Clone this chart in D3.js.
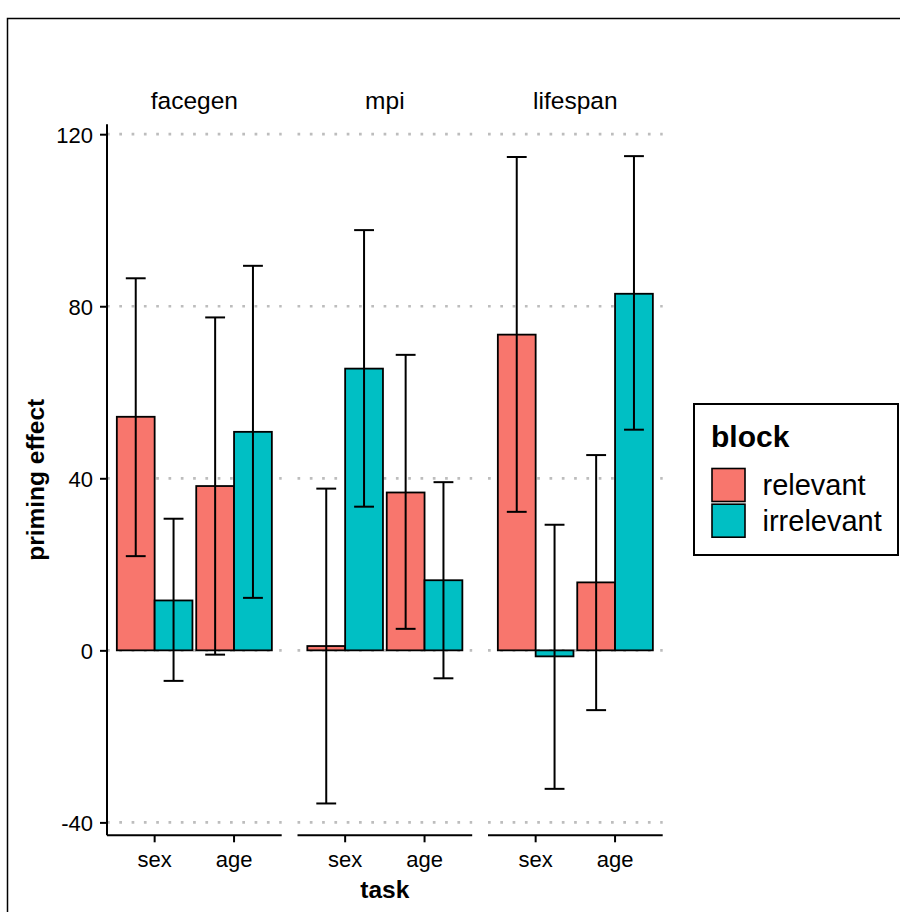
<!DOCTYPE html>
<html>
<head>
<meta charset="utf-8">
<script src="https://cdn.jsdelivr.net/npm/d3@7"></script>
<style>
  html, body { margin: 0; padding: 0; background: #fff; }
  svg { display: block; font-family: "Liberation Sans", Arial, Helvetica, sans-serif; }
</style>
</head>
<body>
<svg id="chart" width="900" height="912"></svg>
<script>
// Facets, categories and series
const panels = ["facegen", "mpi", "lifespan"];
const tasks = ["sex", "age"];
const blocks = ["relevant", "irrelevant"];
const blockColors = ["#F8766D", "#00BFC4"];

// Values ordered facegen-sex, facegen-age, mpi-sex, mpi-age, lifespan-sex, lifespan-age
const relevantMean  = [54.3, 38.2, 1.0, 36.7, 73.4, 15.8];
const relevantLower = [21.9, -1.0, -35.6, 5.0, 32.2, -13.9];
const relevantUpper = [86.5, 77.4, 37.6, 68.7, 114.7, 45.4];
const irrelevantMean  = [11.6, 50.8, 65.5, 16.3, -1.4, 82.9];
const irrelevantLower = [-7.1, 12.2, 33.4, -6.5, -32.2, 51.3];
const irrelevantUpper = [30.6, 89.4, 97.7, 39.1, 29.2, 114.9];

const yTicks = [-40, 0, 40, 80, 120];

// Build rows for drawing
const series = {
  relevant: { mean: relevantMean, lo: relevantLower, hi: relevantUpper },
  irrelevant: { mean: irrelevantMean, lo: irrelevantLower, hi: irrelevantUpper }
};
const rows = [];
panels.forEach((p, pi) => {
  tasks.forEach((t, ti) => {
    const k = pi * tasks.length + ti;
    blocks.forEach(b => {
      rows.push({ panel: p, task: t, block: b,
        mean: series[b].mean[k], lo: series[b].lo[k], hi: series[b].hi[k] });
    });
  });
});

const svg = d3.select("#chart");

// Outer frame
svg.append("rect")
  .attr("x", 7.5).attr("y", 18.5)
  .attr("width", 1000).attr("height", 1000)
  .attr("fill", "none").attr("stroke", "#000").attr("stroke-width", 1.5);

const plotLeft = 107, plotRight = 662.7, plotTop = 124.3, plotBottom = 835.3;

const y = d3.scaleLinear().domain([-43, 122.3]).range([plotBottom, plotTop]);

const xPanel = d3.scaleBand().domain(panels).range([plotLeft, plotRight])
  .paddingInner(0.083).paddingOuter(0);
const xTask = d3.scaleBand().domain(tasks).range([0, xPanel.bandwidth()])
  .paddingInner(0).paddingOuter(0.1);
const xBlock = d3.scaleBand().domain(blocks).range([0, xTask.bandwidth()])
  .paddingInner(0).paddingOuter(0.05);
const color = d3.scaleOrdinal().domain(blocks).range(blockColors);

const panelG = svg.selectAll("g.panel").data(panels).join("g")
  .attr("class", "panel")
  .attr("transform", d => `translate(${xPanel(d)},0)`);

// Dotted horizontal grid
panelG.each(function () {
  d3.select(this).selectAll("line.grid").data(yTicks).join("line")
    .attr("class", "grid")
    .attr("x1", 0).attr("x2", xPanel.bandwidth())
    .attr("y1", d => y(d)).attr("y2", d => y(d))
    .attr("stroke", "#bdbdbd").attr("stroke-width", 2.7)
    .attr("stroke-dasharray", "2.7 9.6");
});

// Strip labels
panelG.append("text")
  .attr("x", xPanel.bandwidth() / 2).attr("y", 108.5)
  .attr("text-anchor", "middle")
  .attr("font-size", 24.5).attr("fill", "#000")
  .text(d => d);

// Bars
panelG.each(function (p) {
  const g = d3.select(this);
  const data = rows.filter(r => r.panel === p);
  g.selectAll("rect.bar").data(data).join("rect")
    .attr("class", "bar")
    .attr("x", d => xTask(d.task) + xBlock(d.block))
    .attr("width", xBlock.bandwidth())
    .attr("y", d => y(Math.max(0, d.mean)))
    .attr("height", d => Math.abs(y(d.mean) - y(0)))
    .attr("fill", d => color(d.block))
    .attr("stroke", "#000").attr("stroke-width", 1.8);

  // Error bars
  const capW = xTask.bandwidth() * 0.25;
  const eb = g.selectAll("g.err").data(data).join("g")
    .attr("class", "err")
    .attr("transform", d => `translate(${xTask(d.task) + xBlock(d.block) + xBlock.bandwidth() / 2},0)`);
  eb.append("line")
    .attr("x1", 0).attr("x2", 0)
    .attr("y1", d => y(d.lo)).attr("y2", d => y(d.hi))
    .attr("stroke", "#000").attr("stroke-width", 2);
  eb.append("line")
    .attr("x1", -capW / 2).attr("x2", capW / 2)
    .attr("y1", d => y(d.hi)).attr("y2", d => y(d.hi))
    .attr("stroke", "#000").attr("stroke-width", 2);
  eb.append("line")
    .attr("x1", -capW / 2).attr("x2", capW / 2)
    .attr("y1", d => y(d.lo)).attr("y2", d => y(d.lo))
    .attr("stroke", "#000").attr("stroke-width", 2);

  // Bottom axis for this panel
  const xAxis = d3.axisBottom(xTask).tickSize(7).tickPadding(5);
  const ax = g.append("g").attr("transform", `translate(0,${plotBottom})`).call(xAxis);
  ax.select(".domain").attr("d", `M0,0H${xPanel.bandwidth()}`)
    .attr("stroke", "#000").attr("stroke-width", 2);
  ax.selectAll(".tick line").attr("stroke", "#000").attr("stroke-width", 2);
  ax.selectAll(".tick text").attr("font-size", 22).attr("fill", "#000")
    .attr("font-family", "Liberation Sans, Arial, sans-serif")
    .attr("dy", null).attr("y", 31.4);
});

// Left axis (plain hyphen for negatives)
const yAxis = d3.axisLeft(y).tickValues(yTicks).tickSize(7).tickPadding(7)
  .tickFormat(d => String(d));
const yAx = svg.append("g").attr("transform", `translate(${plotLeft},0)`).call(yAxis);
yAx.select(".domain").attr("d", `M0,${plotTop}V${plotBottom}`)
  .attr("stroke", "#000").attr("stroke-width", 2);
yAx.selectAll(".tick line").attr("stroke", "#000").attr("stroke-width", 2);
yAx.selectAll(".tick text").attr("font-size", 22).attr("fill", "#000")
  .attr("font-family", "Liberation Sans, Arial, sans-serif")
  .attr("dy", "0.36em");

// Axis titles
svg.append("text")
  .attr("x", (plotLeft + plotRight) / 2).attr("y", 897.5)
  .attr("text-anchor", "middle").attr("font-weight", "bold").attr("font-size", 24.5)
  .text("task");
svg.append("text")
  .attr("transform", `translate(44,${(plotTop + plotBottom) / 2}) rotate(-90)`)
  .attr("text-anchor", "middle").attr("font-weight", "bold").attr("font-size", 24.5)
  .text("priming effect");

// Legend
const lg = svg.append("g");
lg.append("rect")
  .attr("x", 694).attr("y", 404).attr("width", 204).attr("height", 151)
  .attr("fill", "#fff").attr("stroke", "#000").attr("stroke-width", 2);
lg.append("text")
  .attr("x", 711).attr("y", 446.7)
  .attr("font-weight", "bold").attr("font-size", 30)
  .text("block");
const keys = lg.selectAll("g.key").data(blocks).join("g")
  .attr("class", "key")
  .attr("transform", (d, i) => `translate(712,${468.5 + i * 35.7})`);
keys.append("rect")
  .attr("width", 33).attr("height", 33)
  .attr("fill", d => color(d)).attr("stroke", "#000").attr("stroke-width", 1.6);
keys.append("text")
  .attr("x", 50.5).attr("y", 26.5)
  .attr("font-size", 29).attr("fill", "#000")
  .text(d => d);
</script>
</body>
</html>
